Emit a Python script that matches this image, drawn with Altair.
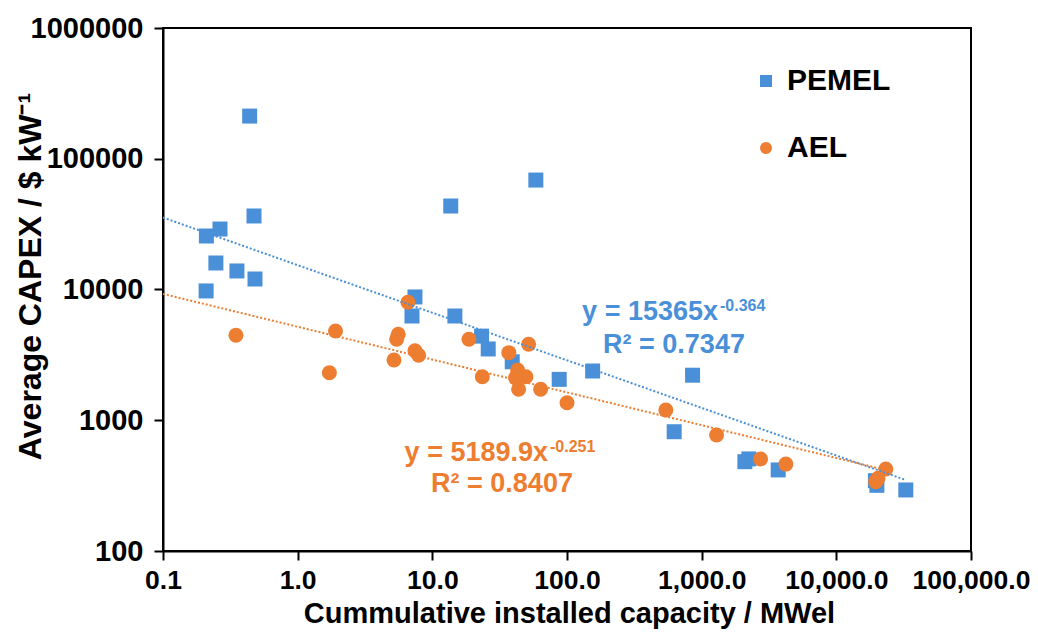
import altair as alt
import pandas as pd

# ---- data ----
series_names = ["PEMEL", "AEL"]

pem_cap = [0.44, 0.21, 0.265, 0.474, 0.247, 0.354, 0.482, 0.209, 13.7, 58.7,
           7.43, 7.06, 14.7, 23.2, 26.0, 39.2, 87.5, 155, 856, 625,
           2093, 2240, 3700, 19500, 20000, 32800]
pem_capex = [212000, 25650, 29000, 36500, 15950, 13860, 12030, 9750, 43500, 68700,
             8770, 6270, 6270, 4400, 3510, 2800, 2055, 2380, 2210, 817,
             482, 506, 417, 345, 318, 293]

ael_cap = [0.348, 1.91, 1.72, 6.59, 5.58, 5.43, 5.19, 7.43, 7.91, 18.7,
           23.5, 37.0, 51.9, 43.0, 41.5, 49.5, 43.7, 63.7, 100, 542,
           1290, 2737, 4220, 23300, 20400, 19600]
ael_capex = [4470, 4820, 2310, 7980, 4540, 4160, 2890, 3400, 3140, 4160,
             2150, 3290, 3810, 2420, 2110, 2150, 1725, 1725, 1360, 1197,
             771, 506, 462, 424, 360, 339]

# trendline end points
pem_trend_cap = [0.1, 32800]
pem_trend_capex = [35500, 349]
ael_trend_cap = [0.1, 23300]
ael_trend_capex = [9250, 416]

x_ticks = [0.1, 1, 10, 100, 1000, 10000, 100000]
y_ticks = [100, 1000, 10000, 100000, 1000000]

pem_eq = ["y = 15365x", "-0.364", "R² = 0.7347"]
ael_eq = ["y = 5189.9x", "-0.251", "R² = 0.8407"]

BLUE = "#4A90D9"
ORANGE = "#ED7D31"
FONT = "Liberation Sans"

df = pd.DataFrame({
    "cap": pem_cap + ael_cap,
    "capex": pem_capex + ael_capex,
    "series": [series_names[0]] * len(pem_cap) + [series_names[1]] * len(ael_cap),
})
trend_df = pd.DataFrame({
    "cap": pem_trend_cap + ael_trend_cap,
    "capex": pem_trend_capex + ael_trend_capex,
    "series": [series_names[0]] * 2 + [series_names[1]] * 2,
})

xs = alt.Scale(type="log", domain=[0.1, 100000], nice=False)
ys = alt.Scale(type="log", domain=[100, 1000000], nice=False)

x_enc = alt.X("cap:Q", scale=xs,
              axis=alt.Axis(values=x_ticks, format=",.1f", labelFlush=False,
                            labelFontSize=26.5,
                            title="Cummulative installed capacity / MWel",
                            titleFontSize=29,
                            titleX=406, titleY=71, titleBaseline="alphabetic",
                            labelPadding=7))
y_enc = alt.Y("capex:Q", scale=ys,
              axis=alt.Axis(values=y_ticks, format="d", labelFlush=False,
                            labelFontSize=29,
                            title="Average CAPEX / $ kW⁻¹",
                            titleFontSize=32,
                            titleX=-133, titleY=248, titleBaseline="middle",
                            labelPadding=11))

legend = alt.Legend(orient="none", legendX=588, legendY=38, title=None,
                    labelFontSize=30, labelFont=FONT, labelFontWeight="bold",
                    labelColor="black", symbolSize=144, rowPadding=37,
                    labelOffset=6, padding=0, symbolStrokeWidth=0)

points = alt.Chart(df).mark_point(filled=True, size=225, opacity=1).encode(
    x=x_enc, y=y_enc,
    color=alt.Color("series:N", scale=alt.Scale(domain=series_names, range=[BLUE, ORANGE]),
                    legend=legend),
    shape=alt.Shape("series:N", scale=alt.Scale(domain=series_names, range=["square", "circle"]),
                    legend=legend),
)


def trend(name, color):
    return alt.Chart(trend_df).transform_filter(alt.datum.series == name).mark_line(
        color=color, strokeDash=[2, 2], strokeWidth=2
    ).encode(x=x_enc, y=y_enc)


def label(txt, x, y, size, color, align):
    return alt.Chart(alt.Data(values=[{"t": txt}])).mark_text(
        x=x, y=y, align=align, baseline="alphabetic", fontSize=size,
        fontWeight="bold", font=FONT, color=color
    ).encode(text="t:N")


layers = [
    points,
    trend("PEMEL", BLUE),
    trend("AEL", ORANGE),
    label(pem_eq[0], 555, 292, 27, BLUE, "right"),
    label(pem_eq[1], 557, 283, 16, BLUE, "left"),
    label(pem_eq[2], 511, 325, 27, BLUE, "center"),
    label(ael_eq[0], 385, 433, 27, ORANGE, "right"),
    label(ael_eq[1], 387, 424, 16, ORANGE, "left"),
    label(ael_eq[2], 339, 464, 27, ORANGE, "center"),
]

chart = alt.layer(*layers).properties(
    width=808, height=523,
    padding={"left": 155, "top": 20, "right": 59, "bottom": 78},
    autosize="none",
).configure_view(stroke="black", strokeWidth=2).configure_axis(
    domainColor="black", domainWidth=2, tickColor="black", tickWidth=2, tickSize=9,
    labelFont=FONT, labelFontWeight="bold", labelColor="black",
    titleFont=FONT, titleFontWeight="bold", titleColor="black",
    grid=False,
)

chart.save("out.html", embed_options={"renderer": "svg", "actions": False})
